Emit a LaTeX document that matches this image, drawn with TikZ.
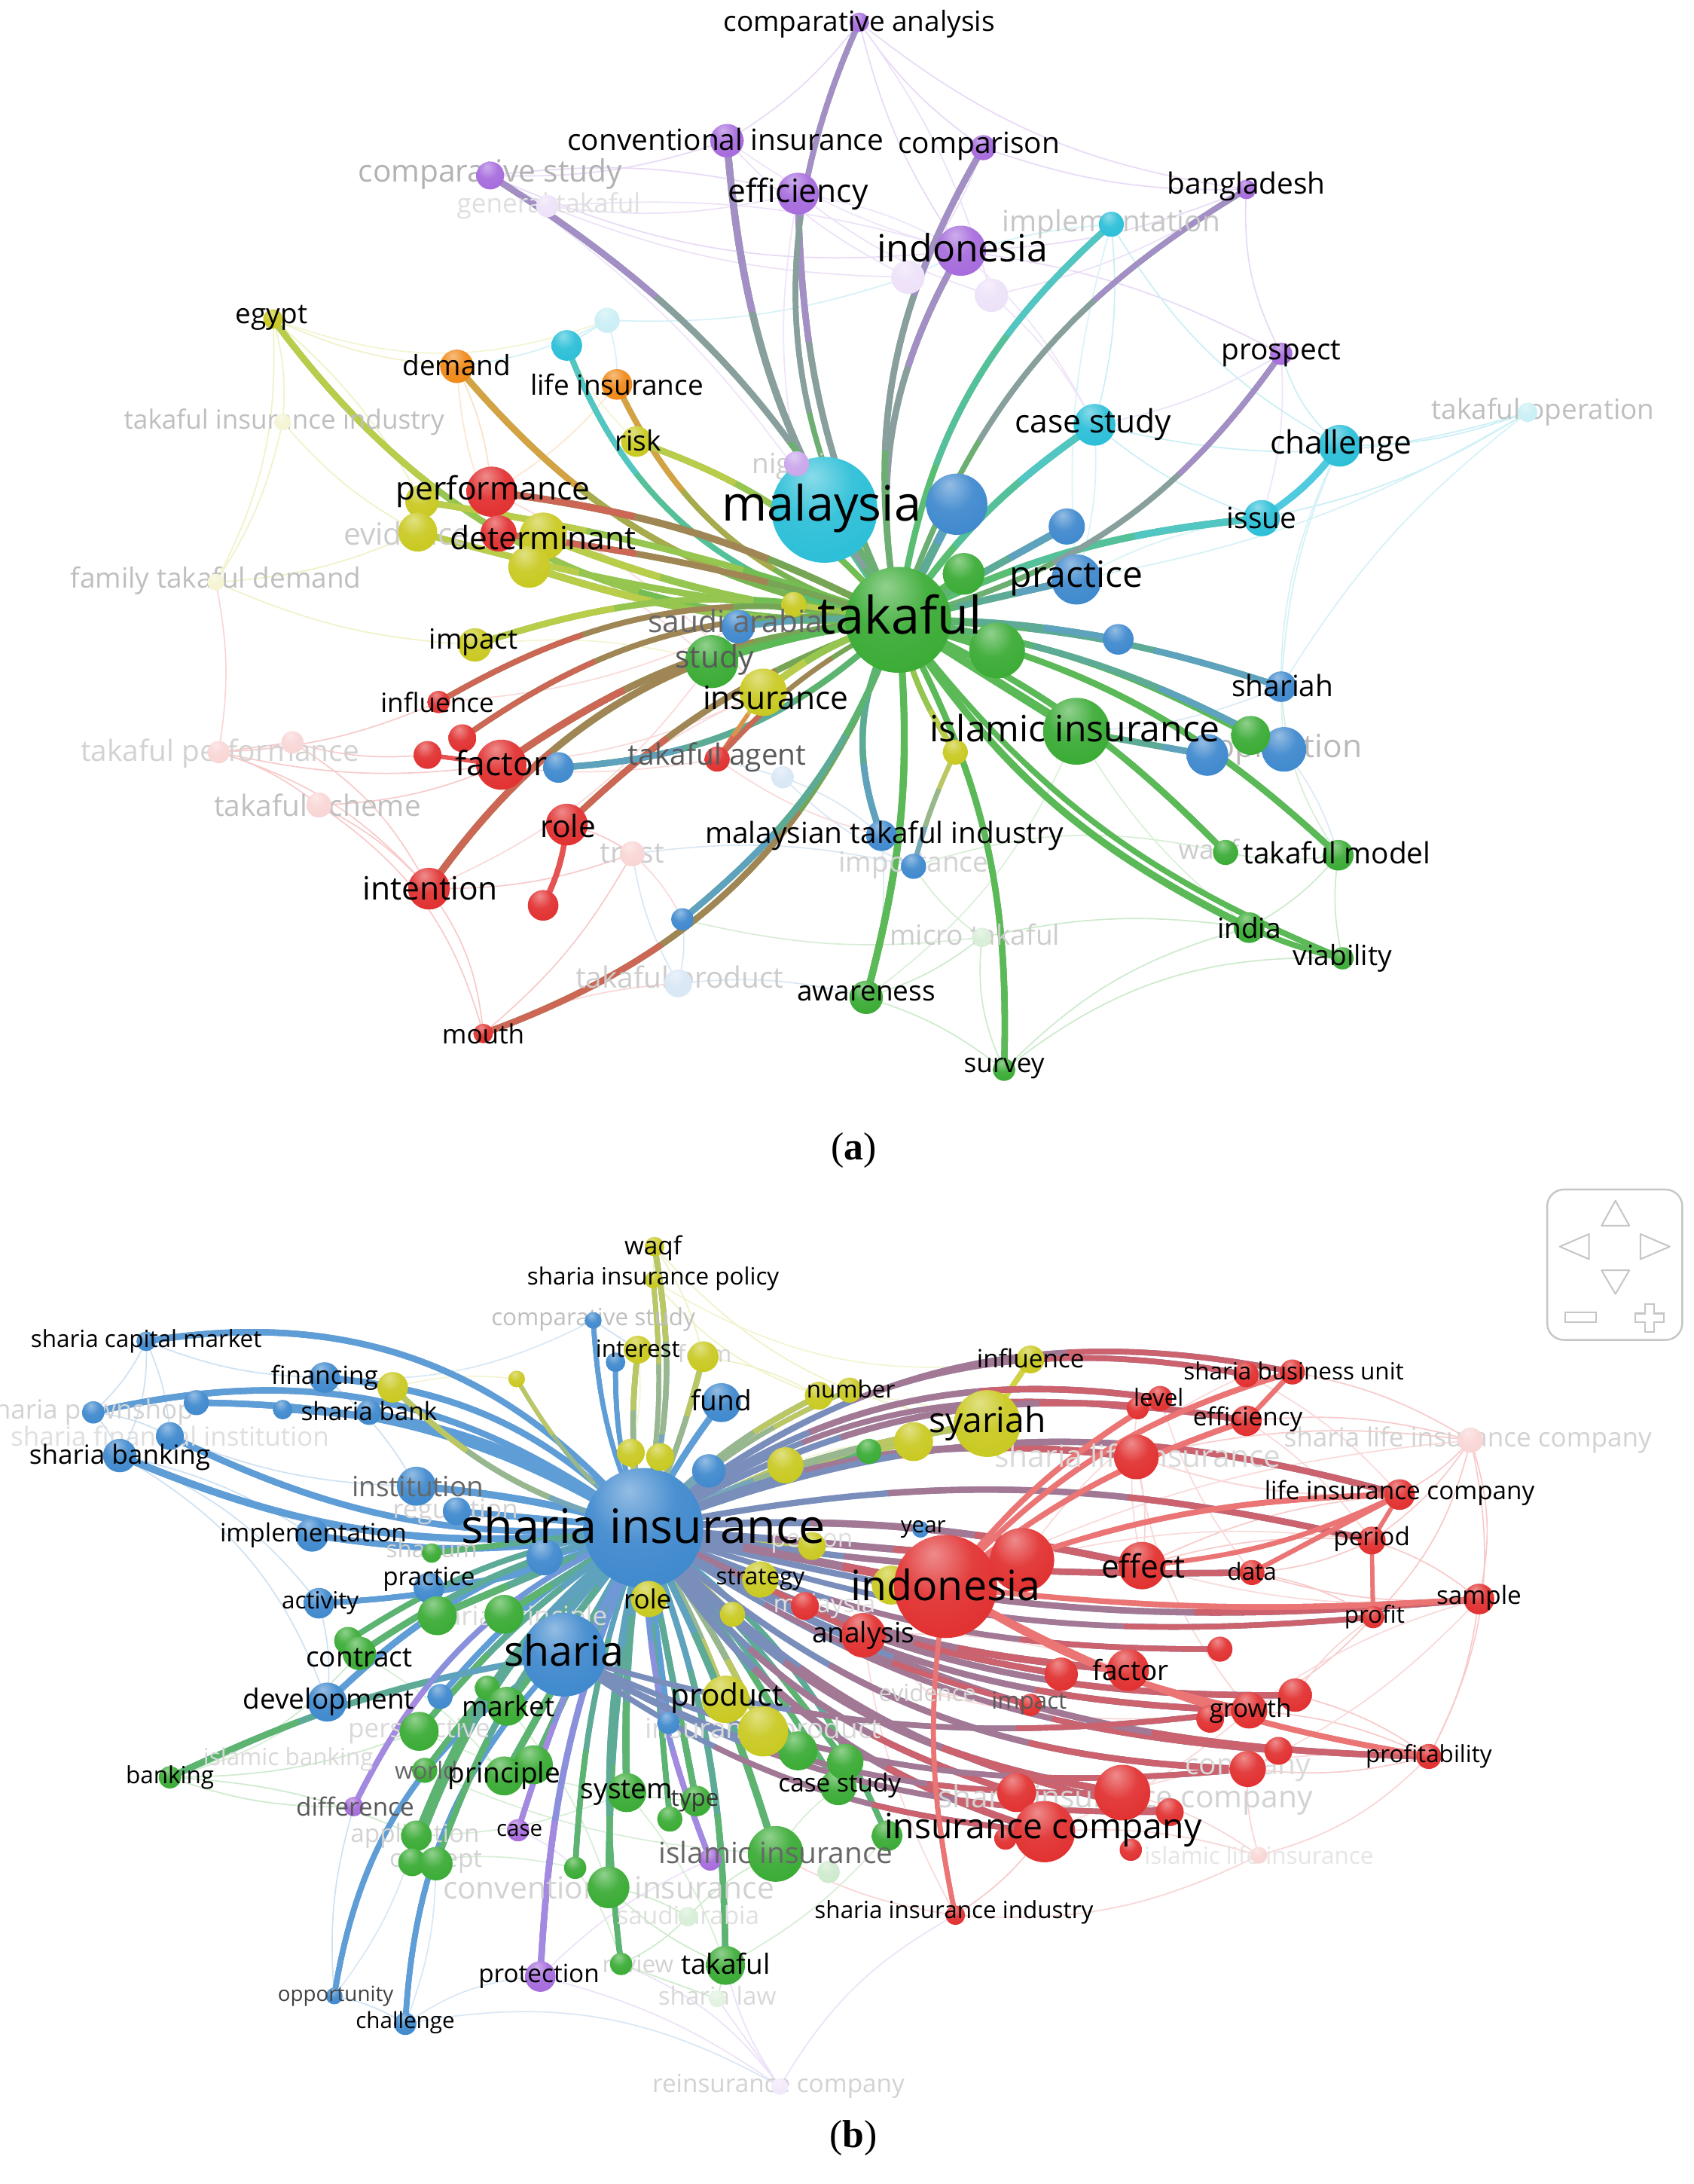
\documentclass[tikz,border=0pt]{standalone}
\usepackage{fontspec}
\setmainfont{Open Sans}
\newfontfamily\capfont{Liberation Serif}
\usetikzlibrary{calc}
\definecolor{vG}{RGB}{55,170,50}
\definecolor{vR}{RGB}{225,45,45}
\definecolor{vB}{RGB}{60,135,205}
\definecolor{vY}{RGB}{200,200,30}
\definecolor{vP}{RGB}{165,105,220}
\definecolor{vC}{RGB}{40,190,215}
\definecolor{vO}{RGB}{240,135,20}
\colorlet{vRl}{vR!80!white}
\colorlet{vbc}{red}
\pgfdeclareradialshading[vbc]{vball}{\pgfpoint{-6bp}{16bp}}{color(0bp)=(vbc!55!white); color(18bp)=(vbc!92!white); color(40bp)=(vbc); color(62bp)=(vbc!82!black); color(80bp)=(vbc!82!black)}
\tikzset{
  faintedge/.style={line width=.9pt},
  lab/.style={inner sep=0pt},
  navbox/.style={draw=gray!45, line width=1.3pt},
}
% ---------- panel (a) ----------
\def\NodesA{takaful/645/445/38/vG, malaysia/592/366/38/vC, bigblue/687/362/22/vB,
indon/690/180/18/vP, effic/573/139/15/vP, convins/522/101/12/vP, compan/617/16/7/vP,
compar/706/106/9/vP, bangla/895/136/7/vP, prospect/920/254/8/vP, compstudy/352/126/10/vP,
gentak/393/148/8/vP!20, pfone/652/199/12/vP!20, pftwo/712/212/12/vP!20, nigeria/572/333/9/vP!60,
implem/798/161/9/vC, casestudy/786/305/15/vC, challenge/962/320/15/vC, issue/906/372/13/vC,
takop/1097/296/7/vC!25, cyantwo/407/248/11/vC, cyanf/436/230/9/vC!25,
demand/328/263/12/vO, lifeins/443/276/11/vO, egypt/196/229/7/vY, risk/457/317/11/vY,
tii/203/303/6/vY!20, yone/303/360/12/vY, ytwo/300/382/14/vY, perf/353/353/18/vR,
ythree/390/385/17/vY, yfour/380/407/15/vY, determ/358/383/13/vR,
famtak/155/418/6/vY!20, impact/341/463/12/vY, yfive/570/434/9/vY, insurance/548/497/17/vY,
ysix/686/540/9/vY, influence/315/504/8/vR, rone/307/542/10/vR, rtwo/332/530/10/vR,
factor/360/549/18/vR, bfac/401/551/11/vB, role/407/592/15/vR, rthree/390/650/11/vR,
intention/308/638/15/vR, mouth/347/742/7/vR, takagent/515/545/9/vR,
tpone/157/540/8/vR!20, tptwo/210/533/8/vR!20, takscheme/229/578/9/vR!20, trust/454/613/9/vR!20,
btwo/766/378/13/vB, practice/773/416/18/vB, bthree/803/459/11/vB, shariah/920/493/11/vB,
appone/867/542/15/vB, apptwo/922/538/16/vB, saudi/530/450/12/vB, mti/633/600/11/vB,
importance/656/622/9/vB, bfour/490/660/8/vB, takprod/487/706/10/vB!20, bf/562/558/8/vB!20,
gone/692/412/15/vG, gtwo/716/467/20/vG, study/511/475/19/vG, islins/773/525/24/vG,
gthree/898/528/14/vG, waqf/880/612/9/vG, takmodel/961/614/11/vG, india/897/666/11/vG,
viability/964/688/8/vG, microtak/705/673/7/vG!20, awareness/622/716/12/vG, survey/721/768/8/vG}
\def\EdgesA{takaful/egypt/28/vG/vY/4.5, takaful/demand/20/vG/vO/4.5, takaful/lifeins/25/vG/vO/4,
takaful/cyantwo/30/vG/vC/4, takaful/risk/-15/vG/vY/4.5, takaful/perf/-10/vG/vR/5,
takaful/yone/-5/vG/vY/4.5, takaful/ytwo/5/vG/vY/4.5, takaful/ythree/8/vG/vY/5,
takaful/yfour/10/vG/vY/5, takaful/determ/-5/vG/vR/4.5, takaful/impact/-15/vG/vY/4.5,
takaful/influence/-20/vG/vR/4, takaful/rtwo/-20/vG/vR/4, takaful/factor/-15/vG/vR/5,
takaful/intention/-25/vG/vR/5, takaful/mouth/25/vG/vR/4.5, takaful/role/-12/vG/vR/4.5,
role/rthree/10/vR/vR/4, takaful/bfac/20/vG/vB/4.5, insurance/takagent/0/vY/vR/3,
takaful/takagent/-10/vG/vR/3.5, factor/rone/0/vR/vR/3, takaful/insurance/-10/vG/vY/5,
takaful/study/-5/vG/vG/5, takaful/saudi/-5/vG/vB/4.5, takaful/yfive/0/vG/vY/4,
takaful/mti/-25/vG/vB/4.5, ysix/importance/-5/vY/vB/3.5, takaful/ysix/-10/vG/vY/4,
takaful/bfour/15/vG/vB/4.5, takaful/awareness/10/vG/vG/5, takaful/survey/15/vG/vG/4.5,
takaful/india/-15/vG/vG/5, india/viability/-5/vG/vG/4, takaful/viability/-15/vG/vG/4,
takaful/takmodel/15/vG/vG/4.5, takaful/waqf/10/vG/vG/4.5, takaful/gthree/10/vG/vG/4.5,
takaful/apptwo/10/vG/vB/4.5, islins/appone/0/vG/vB/4.5, takaful/shariah/8/vG/vB/4.5,
takaful/bthree/5/vG/vB/4.5, takaful/islins/0/vG/vG/6, takaful/issue/10/vG/vC/5,
issue/challenge/-10/vC/vC/5, takaful/casestudy/10/vG/vC/5, takaful/implem/20/vG/vC/4.5,
takaful/bangla/20/vG/vP/4, takaful/prospect/-20/vG/vP/4, takaful/indon/20/vG/vP/4.5,
takaful/compar/20/vG/vP/4.5, takaful/effic/12/vG/vP/4.5, takaful/compan/28/vG/vP/4,
takaful/convins/15/vG/vP/5, takaful/compstudy/-15/vG/vP/4.5, takaful/malaysia/0/vG/vC/6,
takaful/bigblue/0/vG/vB/6, takaful/gone/0/vG/vG/5, takaful/btwo/0/vG/vB/5,
takaful/practice/0/vG/vB/5, takaful/gtwo/0/vG/vG/5, takaful/nigeria/0/vG/vP/4}
\def\FaintA{compstudy/indon/-15/vP!25, compstudy/convins/-10/vP!25, compstudy/effic/10/vP!25,
compstudy/gentak/0/vP!25, gentak/pfone/-10/vP!20, gentak/indon/10/vP!20, compan/convins/10/vP!25,
compan/indon/-10/vP!25, compan/compar/-10/vP!25, compan/bangla/-15/vP!25, compan/pftwo/10/vP!20,
compar/bangla/-10/vP!25, compar/pfone/10/vP!20, bangla/prospect/-15/vP!25, bangla/indon/10/vP!25,
bangla/pftwo/10/vP!20, indon/prospect/10/vP!25, convins/pfone/-10/vP!20, effic/pftwo/-10/vP!20,
prospect/challenge/-15/vC!25, prospect/casestudy/10/vP!20, implem/challenge/-15/vC!25,
implem/casestudy/10/vC!25, takop/challenge/10/vC!25, takop/issue/10/vC!25, takop/casestudy/15/vC!25,
takop/shariah/-10/vC!20, takop/practice/10/vC!20, challenge/shariah/-10/vC!20,
challenge/apptwo/-15/vC!20, issue/casestudy/10/vC!25, egypt/demand/-10/vY!25, egypt/tii/10/vY!25,
egypt/famtak/15/vY!25, egypt/cyanf/-20/vY!20, egypt/yone/10/vY!25, tii/famtak/10/vY!25,
tii/ytwo/-10/vY!25, famtak/tpone/10/vR!20, famtak/ytwo/-10/vY!25, famtak/impact/-10/vY!25,
tpone/takscheme/10/vR!25, tpone/tptwo/0/vR!25, tpone/factor/-10/vR!25, tpone/intention/15/vR!25,
tpone/influence/-10/vR!25, tptwo/rone/-10/vR!25, tptwo/intention/15/vR!25,
takscheme/intention/10/vR!25, takscheme/factor/-10/vR!25, takscheme/mouth/20/vR!25,
intention/mouth/15/vR!25, intention/trust/-10/vR!25, mouth/takprod/10/vR!20, mouth/trust/-10/vR!25,
role/trust/10/vR!25, takprod/awareness/10/vB!20, takprod/bfour/-10/vB!20, takprod/trust/10/vB!20,
awareness/survey/10/vG!25, awareness/microtak/-10/vG!25, microtak/survey/-15/vG!25,
microtak/importance/10/vG!20, survey/viability/20/vG!25, survey/india/15/vG!25,
viability/takmodel/10/vG!25, takmodel/waqf/10/vG!25, takmodel/shariah/15/vG!20,
india/takmodel/-10/vG!25, india/microtak/-10/vG!25, waqf/importance/-15/vG!20,
cyanf/cyantwo/0/vC!25, cyanf/demand/10/vC!20, cyanf/lifeins/10/vC!20, cyanf/pfone/-10/vC!20,
demand/perf/10/vO!25, pfone/implem/10/vC!20, gentak/effic/-10/vP!20, trust/importance/10/vB!20,
bf/takagent/0/vB!20, bf/mti/10/vB!20, bf/importance/-10/vB!20, microtak/bfour/10/vG!20,
perf/insurance/10/vR!18, factor/insurance/-10/vR!18, role/insurance/10/vR!18, intention/study/-15/vR!18,
impact/study/10/vY!20, influence/saudi/-10/vR!18, determ/study/10/vR!18, rone/takagent/-10/vR!18,
compstudy/malaysia/10/vP!18, convins/indon/-10/vP!18, effic/indon/10/vP!18, indon/casestudy/10/vP!18,
implem/practice/-10/vC!18, casestudy/practice/10/vC!18, shariah/islins/10/vB!18,
apptwo/takmodel/10/vB!18, waqf/islins/-10/vG!18, india/islins/10/vG!18, awareness/islins/-15/vG!18,
mti/awareness/10/vB!18, trust/bfour/10/vR!18, takagent/mti/-10/vR!18, risk/cyantwo/10/vY!18,
lifeins/perf/10/vO!20, demand/determ/-10/vO!20, nigeria/effic/10/vP!18, pftwo/casestudy/10/vP!18,
issue/practice/-10/vC!18, prospect/issue/10/vP!18}
\def\LabFadedA{compstudy/comparative study/22/0/1/gray!60, gentak/general takaful/19/1/0/gray!25,
nigeria/nigeria/20/0/-2/gray!40, implem/implementation/21/0/0/gray!45,
takop/takaful operation/20/11/0/gray!50, tii/takaful insurance industry/19/1/0/gray!50,
ytwo/evidence/22/-8/-1/gray!40, famtak/family takaful demand/20/0/1/gray!50,
tpone/takaful performance/21/1/-1/gray!35, takscheme/takaful scheme/21/-1/0/gray!50,
trust/trust/21/0/0/gray!40, apptwo/application/23/-3/0/gray!55, importance/importance/20/0/1/gray!35,
takprod/takaful product/21/1/2/gray!40, waqf/waqf/19/-12/0/gray!40,
microtak/micro takaful/20/-5/2/gray!40}
\def\LabA{takaful/takaful/37/1/4/black, malaysia/malaysia/35/-2/1/black,
indon/indonesia/27/1/2/black, effic/efficiency/23/0/0/black,
convins/conventional insurance/21/-1/1/black, compan/comparative analysis/20/0/-1/black,
compar/comparison/21/-3/1/black, bangla/bangladesh/21/0/2/black, prospect/prospect/21/0/0/black,
casestudy/case study/23/-1/0/black, challenge/challenge/23/1/0/black, issue/issue/21/0/0/black,
demand/demand/20/0/1/black, lifeins/life insurance/20/0/0/black, egypt/egypt/20/-1/1/black,
risk/risk/20/1/1/black, perf/performance/23/1/0/black, determ/determinant/23/32/-3/black,
impact/impact/20/-1/2/black, insurance/insurance/23/9/-4/black, influence/influence/19/-1/0/black,
factor/factor/24/0/1/black, role/role/22/1/-1/black, intention/intention/23/1/0/black,
mouth/mouth/19/0/0/black, takagent/takaful agent/21/0/1/black!65,
practice/practice/26/0/1/black, shariah/shariah/21/1/1/black, saudi/saudi arabia/22/-2/4/black!60,
mti/malaysian takaful industry/21/2/0/black, study/study/22/2/1/black!65,
islins/islamic insurance/26/-1/2/black, takmodel/takaful model/21/-1/2/black,
india/india/20/0/0/black, viability/viability/20/0/0/black, awareness/awareness/20/0/3/black,
survey/survey/19/0/1/black}
% ---------- panel (b) ----------
\def\NodesB{si/462/1097/43/vB, sharia/405/1188/30/vB, scm/105/963/7/vB, financing/233/989/11/vB,
bbone/141/1007/9/vB, pawn/67/1014/8/vB, bbtwo/203/1012/7/vB, sbank/265/1014/9/vB,
sfi/122/1031/10/vB, sbanking/86/1045/12/vB, institution/299/1067/14/vB, regulation/328/1085/10/vB,
implemb/224/1102/12/vB, bbthree/391/1118/13/vB, practiceb/308/1140/11/vB, activity/229/1151/11/vB,
development/235/1222/14/vB, bbfour/316/1218/9/vB, year/661/1098/6/vB, fund/518/1007/14/vB,
bbfive/509/1056/12/vB, compst/426/948/6/vB, binterest/442/978/7/vB, bbsix/480/1237/8/vB,
opport/240/1433/6/vB, challengeb/291/1453/8/vB, gsharium/310/1115/7/vG,
contractone/250/1178/10/vG, contract/258/1187/12/vG, gspone/314/1160/14/vG, gsptwo/362/1159/14/vG,
gmtwo/350/1212/9/vG, market/364/1225/14/vG, persp/301/1243/14/vG, banking/122/1276/8/vG,
islbank/207/1263/0/vG!20, world/305/1271/9/vG, gptwo/383/1267/14/vG, principle/362/1275/14/vG,
diff/254/1297/7/vP, appb/299/1318/11/vG, conceptone/296/1337/10/vG, concepttwo/313/1338/12/vG,
convb/437/1355/15/vG, case/372/1314/8/vP, protection/388/1419/11/vP, system/450/1287/14/vG,
type/500/1293/11/vG, gfive/481/1306/9/vG, gsix/413/1341/8/vG, pb/510/1335/8/vP,
islinsb/557/1331/20/vG, gseven/595/1344/8/vG!25, saudib/494/1376/7/vG!20, review/446/1410/8/vG,
takafulb/521/1411/14/vG, slaw/515/1435/6/vG!15, reins/560/1498/6/vP!15,
casestudyb/602/1283/13/vG, geight/573/1257/14/vG, gnine/607/1265/13/vG, gten/637/1318/11/vG,
geleven/624/1042/9/vG, product/521/1220/17/vY, insprod/548/1243/18/vY,
waqfb/470/895/7/vY, sip/469/919/6/vY, interest/458/969/10/vY, form/505/974/11/vY,
yseven/371/990/6/vY, fatwa/282/996/11/vY, yeight/453/1043/10/vY, ynine/474/1046/10/vY,
number/588/1002/10/vY, yten/610/998/9/vY, yeleven/564/1052/13/vY, ytwelve/656/1035/14/vY,
syariah/709/1022/24/vY, influenceb/740/976/10/vY, person/583/1110/10/vY, strategy/546/1134/13/vY,
roleb/466/1148/13/vY, ythirteen/526/1159/9/vY, yfourteen/640/1138/14/vY,
indonb/679/1139/37/vR, rfour/734/1120/23/vR, rfive/578/1153/10/vR, analysis/620/1174/16/vR,
sbuone/895/987/9/vR, sbutwo/928/985/9/vR, level/833/1004/9/vR, rsix/817/1011/8/vR,
efficb/895/1020/11/vR, sli/816/1046/16/vR, slic/1056/1034/9/vR!20, lic/1005/1073/11/vR,
period/985/1106/10/vR, effect/820/1124/17/vR, data/899/1129/9/vR, sample/1062/1148/11/vR,
profit/986/1161/8/vR, rseven/876/1184/9/vR, reight/762/1202/12/vR, factorb/810/1199/15/vR,
impactb/740/1224/8/vR, evid/666/1215/0/vR!20, growth/897/1228/13/vR, rnine/869/1234/10/vR,
rten/930/1217/12/vR, releven/918/1257/10/vR, company/896/1270/13/vR, profitab/1026/1261/9/vR,
rtwelve/840/1301/10/vR, rthirteen/812/1328/8/vR, ili/904/1332/6/vR!20, sic/806/1287/20/vR,
rfourteen/730/1287/14/vR, inscomp/750/1315/22/vR, rfifteen/722/1320/8/vR, sii/686/1375/7/vR}
\def\EdgesB{si/scm/-30/vB/vB/4.5, si/financing/-20/vB/vB/4.5, si/bbone/-15/vB/vB/4.5,
si/pawn/-25/vB/vB/4.5, si/bbtwo/-15/vB/vB/4, si/sbank/-12/vB/vB/4.5, si/sfi/15/vB/vB/4.5,
si/sbanking/15/vB/vB/5, si/institution/-5/vB/vB/5, si/regulation/0/vB/vB/4.5,
si/implemb/10/vB/vB/4.5, si/practiceb/10/vB/vB/4.5, si/bbthree/0/vB/vB/5, si/activity/10/vB/vB/4,
si/development/-15/vB/vB/4.5, si/bbfour/-10/vB/vB/4, si/fund/5/vB/vB/4.5, si/bbfive/0/vB/vB/5,
si/compst/10/vB/vB/3.5, si/binterest/10/vB/vB/3.5, si/year/5/vB/vB/3, si/bbsix/0/vB/vB/4,
sharia/opport/-25/vB/vB/4, sharia/challengeb/-20/vB/vB/4, si/gsharium/0/vB/vG/4,
si/waqfb/-12/vB/vY/4, si/sip/-8/vB/vY/3.5, si/interest/8/vB/vY/4, si/form/-5/vB/vY/4,
si/yseven/10/vB/vY/3, si/fatwa/15/vB/vY/4, si/yeight/0/vB/vY/4, si/ynine/0/vB/vY/4,
si/number/10/vB/vY/4, si/yten/10/vB/vY/3.5, si/yeleven/0/vB/vY/4.5, si/ytwelve/5/vB/vY/4.5,
si/syariah/8/vB/vY/5, syariah/influenceb/0/vY/vY/4, si/person/0/vB/vY/4, si/strategy/0/vB/vY/4.5,
si/roleb/0/vB/vY/4.5, si/ythirteen/0/vB/vY/4, indonb/yfourteen/0/vR/vY/4, si/product/5/vB/vY/4.5,
si/insprod/5/vB/vY/4.5, si/contract/-10/vB/vG/4.5, si/contractone/-12/vB/vG/4,
si/gspone/0/vB/vG/5, si/gsptwo/0/vB/vG/5, si/gmtwo/0/vB/vG/4, si/market/0/vB/vG/5,
si/persp/-8/vB/vG/4.5, sharia/banking/-8/vB/vG/4.5, si/world/-5/vB/vG/4, si/principle/0/vB/vG/5,
si/gptwo/0/vB/vG/5, si/appb/-15/vB/vG/4.5, si/conceptone/-15/vB/vG/4.5,
si/concepttwo/-12/vB/vG/4.5, si/convb/-5/vB/vG/4.5, si/system/-5/vB/vG/5, si/type/0/vB/vG/4.5,
si/gfive/0/vB/vG/4, si/gsix/-8/vB/vG/4, si/islinsb/5/vB/vG/5, si/review/-10/vB/vG/4,
si/takafulb/10/vB/vG/4.5, si/casestudyb/5/vB/vG/4, si/geight/5/vB/vG/4.5, si/gnine/5/vB/vG/4,
si/gten/15/vB/vG/4, si/geleven/0/vB/vG/3.5, si/diff/-20/vB/vP/4, si/case/-5/vB/vP/4,
si/protection/-10/vB/vP/4.5, si/pb/-10/vB/vP/4,
si/sbuone/25/vB/vR/4, si/sbutwo/25/vB/vR/4, si/level/22/vB/vR/4.5, si/rsix/20/vB/vR/4,
si/efficb/20/vB/vR/4.5, si/sli/15/vB/vR/5, si/lic/18/vB/vR/4.5, si/period/12/vB/vR/4.5,
si/effect/8/vB/vR/5, si/data/-5/vB/vR/4.5, si/sample/-10/vB/vR/4.5, si/profit/-12/vB/vR/4,
si/rseven/-12/vB/vR/4, si/factorb/-12/vB/vR/5, si/reight/-10/vB/vR/4.5, si/growth/-15/vB/vR/4.5,
si/rten/-15/vB/vR/4.5, si/releven/-15/vB/vR/4, si/company/-20/vB/vR/4.5,
si/profitab/-15/vB/vR/4.5, si/rtwelve/-18/vB/vR/4, si/sic/-20/vB/vR/5, si/inscomp/-20/vB/vR/5,
si/rfourteen/-18/vB/vR/4.5, si/indonb/0/vB/vR/6, si/rfour/0/vB/vR/5, si/analysis/0/vB/vR/4.5,
si/rfive/0/vB/vR/4, si/impactb/-10/vB/vR/4, sharia/inscomp/-15/vB/vR/4, sharia/sic/-15/vB/vR/4,
sharia/company/-15/vB/vR/4, sharia/growth/-12/vB/vR/4, sharia/rtwelve/-15/vB/vR/4,
indonb/sbutwo/15/vRl/vRl/4, indonb/level/10/vRl/vRl/4, indonb/efficb/10/vRl/vRl/4,
indonb/lic/10/vRl/vRl/4, indonb/sample/-5/vRl/vRl/4, indonb/profitab/-10/vRl/vRl/4,
indonb/growth/-10/vRl/vRl/4, indonb/sii/-10/vRl/vRl/3.5, effect/lic/-10/vRl/vRl/3.5,
data/lic/0/vRl/vRl/3.5, efficb/sbutwo/0/vRl/vRl/3.5, lic/period/0/vRl/vRl/3, period/profit/0/vRl/vRl/3}
\def\FaintB{scm/sbanking/15/vB!25, scm/pawn/10/vB!25, scm/sfi/10/vB!25, scm/financing/-10/vB!25,
pawn/sfi/10/vB!25, pawn/sbanking/10/vB!25, sbanking/activity/15/vB!25, sbanking/development/20/vB!25,
sbanking/implemb/10/vB!25, sfi/institution/-10/vB!25, financing/institution/10/vB!25,
activity/development/10/vB!25, banking/diff/-10/vG!25, banking/contract/-15/vG!25,
banking/persp/-10/vG!25, banking/appb/10/vG!25, banking/development/-10/vG!20,
opport/challengeb/10/vB!25, opport/diff/10/vB!25, opport/appb/-10/vB!20,
challengeb/protection/15/vB!20, challengeb/reins/20/vB!20, challengeb/concepttwo/-10/vB!20,
reins/takafulb/10/vP!20, reins/protection/-10/vP!20, reins/sii/15/vP!20, reins/slaw/0/vP!20,
reins/review/-15/vP!20, slaw/review/0/vG!25, slaw/takafulb/0/vG!25, saudib/islinsb/10/vG!25,
saudib/convb/-10/vG!25, saudib/review/10/vG!25, convb/takafulb/-10/vG!25, slic/lic/10/vR!25,
slic/period/10/vR!25, slic/sample/15/vR!25, slic/profitab/20/vR!25, slic/sbutwo/-10/vR!25,
slic/efficb/-10/vR!25, slic/sli/-10/vR!25, slic/profit/15/vR!25, sample/profitab/10/vR!25,
sample/period/-10/vR!25, sample/data/10/vR!25, profitab/growth/-10/vR!25, profitab/company/10/vR!25,
profitab/rten/-10/vR!25, profitab/ili/15/vR!20, ili/sic/-10/vR!20, ili/company/10/vR!20,
ili/sii/15/vR!20, ili/inscomp/-10/vR!20, sii/inscomp/-10/vR!25, sii/islinsb/10/vR!20,
lic/effect/-10/vR!25, lic/sli/10/vR!25, period/data/10/vR!25, period/effect/-10/vR!25,
profit/data/-10/vR!25, profit/growth/10/vR!25, waqfb/sip/0/vY!25, waqfb/form/10/vY!25,
waqfb/syariah/-20/vY!25, sip/number/-15/vY!25, sip/influenceb/-20/vY!20, form/number/10/vY!25,
compst/interest/0/vB!25, compst/financing/15/vB!20, sli/effect/10/vR!20, sli/growth/-15/vR!20,
rten/profit/10/vR!20, evid/impactb/0/vR!20, evid/growth/-10/vR!20,
indonb/slic/10/vR!18, sli/lic/-10/vR!18, efficb/period/10/vR!18, level/data/-10/vR!18,
sbuone/lic/10/vR!18, rsix/effect/-10/vR!18, growth/sample/10/vR!18, company/sample/-10/vR!18,
sic/profitab/10/vR!18, inscomp/growth/-10/vR!18, analysis/factorb/10/vR!18, rfour/period/10/vR!18,
effect/sample/-10/vR!18, rfour/sbuone/15/vR!18, analysis/sii/-10/vR!18, rfive/evid/10/vR!18,
conceptone/gsix/10/vG!20, appb/system/-10/vG!20, world/islinsb/-10/vG!20, contract/principle/10/vG!20,
persp/type/-10/vG!20, market/convb/10/vG!20, gsix/review/10/vG!20, system/takafulb/10/vG!20,
casestudyb/islinsb/-10/vG!20, gten/takafulb/10/vG!20, case/gsix/10/vP!20, pb/protection/-10/vP!20,
yeleven/ytwelve/10/vY!20, interest/yeight/10/vY!20, fatwa/yseven/10/vY!20, number/syariah/10/vY!20}
\def\LabFadedB{pawn/sharia pawnshop/19/-4/0/gray!35, sfi/sharia financial institution/19/0/0/gray!25,
regulation/regulation/19/-1/0/gray!35, compst/comparative study/17/0/1/gray!50,
gsharium/sharium/17/0/3/gray!40, gsptwo/sharia principle/19/6/-3/gray!30,
persp/perspective/19/0/0/gray!30, islbank/islamic banking/17/0/0/gray!30,
appb/application/18/-1/0/gray!35, concepttwo/concept/18/0/1/gray!35,
convb/conventional insurance/22/0/0/gray!35, saudib/saudi arabia/18/0/1/gray!25,
review/review/17/12/0/gray!35, slaw/sharia law/18/0/2/gray!30, reins/reinsurance company/18/-1/0/gray!35,
insprod/insurance product/20/0/0/gray!30, form/form/17/1/2/gray!35, person/person/18/0/2/gray!25,
rfive/malaysia/18/14/0/gray!25, evid/evidence/17/0/0/gray!35, company/company/21/0/-1/gray!30,
ili/islamic life insurance/17/0/0/gray!20, sic/sharia insurance company/22/2/-5/gray!35,
sli/sharia life insurance/22/1/1/gray!30, slic/sharia life insurance company/19/-2/0/gray!35}
\def\LabB{si/sharia insurance/34/0/2/black, sharia/sharia/30/0/3/black,
scm/sharia capital market/17/0/0/black, financing/financing/18/0/0/black,
sbank/sharia bank/18/0/1/black, sbanking/sharia banking/19/0/-1/black,
institution/institution/20/1/0/black!60, implemb/implementation/18/1/0/black,
practiceb/practice/18/0/6/black, activity/activity/17/1/0/black, development/development/20/1/0/black,
year/year/16/2/0/black, fund/fund/20/0/2/black, opport/opportunity/15/1/0/black!75,
challengeb/challenge/16/0/1/black, contract/contract/20/0/-3/black, market/market/20/1/0/black,
banking/banking/17/0/0/black, world/world/17/1/0/black!60, principle/principle/20/0/0/black,
diff/difference/18/1/0/black!65, case/case/16/1/0/black, protection/protection/18/-1/0/black,
system/system/20/0/0/black, type/type/17/-1/0/black!80, islinsb/islamic insurance/21/0/1/black!60,
takafulb/takaful/20/0/1/black, casestudyb/case study/18/1/1/black, product/product/22/1/1/black,
waqfb/waqf/18/-1/-1/black, sip/sharia insurance policy/17/0/1/black,
interest/interest/17/0/1/black, yten/number/17/1/1/black, syariah/syariah/25/0/0/black,
influenceb/influence/18/0/1/black, strategy/strategy/17/0/0/black, roleb/role/19/-1/0/black,
indonb/indonesia/30/0/1/black, analysis/analysis/20/0/0/black,
sbutwo/sharia business unit/17/1/1/black, level/level/17/-1/1/black,
efficb/efficiency/18/1/1/black, lic/life insurance company/18/0/1/black,
period/period/18/0/1/black, effect/effect/23/1/0/black, data/data/17/0/1/black,
sample/sample/18/0/1/black, profit/profit/17/1/0/black, factorb/factor/20/2/0/black,
impactb/impact/17/-1/1/black!65, growth/growth/18/1/0/black,
profitab/profitability/17/0/0/black, inscomp/insurance company/25/-1/1/black,
sii/sharia insurance industry/17/-1/2/black}
% gradient edge: drawn from the outer node (#2) towards the hub (#1)
\newcommand\gradedge[6]{%
  \path let \p1=(#1), \p2=(#2), \n1={veclen(\x2-\x1,\y2-\y1)} in
    \pgfextra{\pgfmathparse{0.34*\n1}\xdef\Lone{\pgfmathresult}\pgfmathparse{0.67*\n1}\xdef\Ltwo{\pgfmathresult}};
  \draw[line width=#6pt, draw=#4!80!#5!82!white, line cap=round] (#2) to[bend right=#3] (#1);
  \draw[line width=#6pt, draw=#4!50!#5!82!white, dash pattern=on \Ltwo pt off 4000pt] (#2) to[bend right=#3] (#1);
  \draw[line width=#6pt, draw=#4!20!#5!82!white, dash pattern=on \Lone pt off 4000pt] (#2) to[bend right=#3] (#1);
}
\begin{document}
\begin{tikzpicture}[x=1pt,y=-1pt]
\path[use as bounding box] (0,0) rectangle (1216,1568);
\fill[white] (0,0) rectangle (1216,1568);
% coordinates
\foreach \n/\px/\py/\rr/\cl in \NodesA { \coordinate (\n) at (\px,\py); }
\foreach \n/\px/\py/\rr/\cl in \NodesB { \coordinate (\n) at (\px,\py); }
% faint edges
\foreach \na/\nb/\bd/\cl in \FaintA { \draw[faintedge, draw=\cl] (\na) to[bend left=\bd] (\nb); }
\foreach \na/\nb/\bd/\cl in \FaintB { \draw[faintedge, draw=\cl] (\na) to[bend left=\bd] (\nb); }
% strong edges
\foreach \na/\nb/\bd/\hc/\oc/\lw in \EdgesA { \gradedge{\na}{\nb}{\bd}{\hc}{\oc}{\lw} }
\foreach \na/\nb/\bd/\hc/\oc/\lw in \EdgesB { \gradedge{\na}{\nb}{\bd}{\hc}{\oc}{\lw} }
% faded labels (under balls)
\foreach \n/\tx/\fs/\dx/\dy/\tc in \LabFadedA { \node[lab, text=\tc, font=\fontsize{\fs}{\fs}\selectfont] (\n-f) at ([xshift=\dx pt, yshift=\dy pt]\n) {\tx}; }
\foreach \n/\tx/\fs/\dx/\dy/\tc in \LabFadedB { \node[lab, text=\tc, font=\fontsize{\fs}{\fs}\selectfont] (\n-f) at ([xshift=\dx pt, yshift=\dy pt]\n) {\tx}; }
% balls
\foreach \n/\px/\py/\rr/\cl in \NodesA { \ifdim\rr pt>0pt \colorlet{vbc}{\cl}\shade[shading=vball] (\n) circle (\rr); \fi }
\foreach \n/\px/\py/\rr/\cl in \NodesB { \ifdim\rr pt>0pt \colorlet{vbc}{\cl}\shade[shading=vball] (\n) circle (\rr); \fi }
% labels
\foreach \n/\tx/\fs/\dx/\dy/\tc in \LabA { \node[lab, text=\tc, font=\fontsize{\fs}{\fs}\selectfont] (\n-l) at ([xshift=\dx pt, yshift=\dy pt]\n) {\tx}; }
\foreach \n/\tx/\fs/\dx/\dy/\tc in \LabB { \node[lab, text=\tc, font=\fontsize{\fs}{\fs}\selectfont] (\n-l) at ([xshift=\dx pt, yshift=\dy pt]\n) {\tx}; }
% captions
\node[font=\capfont\fontsize{28}{28}\selectfont] (capa) at (613,826) {(\textbf{a})};
\node[font=\capfont\fontsize{28}{28}\selectfont] (capb) at (613,1535) {(\textbf{b})};
% navigation widget
\draw[navbox, rounded corners=12pt] (1111,854) rectangle (1208,962);
\draw[navbox, line width=1.1pt, line join=round] (1160,862) -- (1170,880) -- (1150,880) -- cycle;
\draw[navbox, line width=1.1pt, line join=round] (1120,895) -- (1141,886) -- (1141,904) -- cycle;
\draw[navbox, line width=1.1pt, line join=round] (1199,895) -- (1178,886) -- (1178,904) -- cycle;
\draw[navbox, line width=1.1pt, line join=round] (1160,929) -- (1150,912) -- (1170,912) -- cycle;
\draw[navbox, line width=1.1pt] (1124,942) rectangle (1146,949);
\draw[navbox, line width=1.1pt] (1181,936) -- (1188,936) -- (1188,943) -- (1195,943) -- (1195,949) -- (1188,949) -- (1188,956) -- (1181,956) -- (1181,949) -- (1174,949) -- (1174,943) -- (1181,943) -- cycle;
\end{tikzpicture}
\end{document}
